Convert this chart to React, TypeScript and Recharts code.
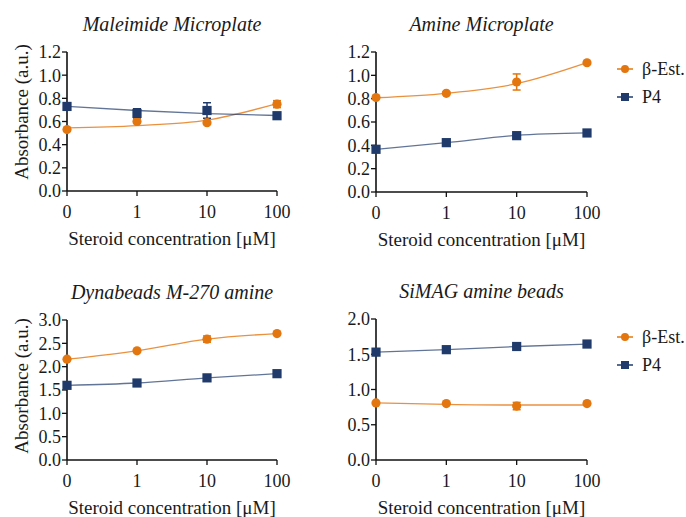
import React from 'react';
import { ComposedChart, Line, XAxis, YAxis, ErrorBar, Label } from 'recharts';

const xCats = ['0', '1', '10', '100'];

// Maleimide Microplate
const maleEst = [0.53, 0.60, 0.59, 0.75];
const maleEstErr = [0.01, 0.01, 0.01, 0.03];
const maleEstFit = [0.545, 0.565, 0.612, 0.755];
const maleP4 = [0.73, 0.67, 0.695, 0.65];
const maleP4Err = [0.01, 0.04, 0.067, 0.01];
const maleP4Fit = [0.73, 0.695, 0.668, 0.652];

// Amine Microplate
const amineEst = [0.81, 0.846, 0.943, 1.108];
const amineEstErr = [0.01, 0.01, 0.069, 0.01];
const amineEstFit = [0.808, 0.846, 0.928, 1.108];
const amineP4 = [0.366, 0.423, 0.483, 0.506];
const amineP4Err = [0.01, 0.01, 0.01, 0.01];
const amineP4Fit = [0.366, 0.423, 0.485, 0.506];

// Dynabeads M-270 amine
const dynaEst = [2.16, 2.34, 2.59, 2.71];
const dynaEstErr = [0.02, 0.02, 0.068, 0.02];
const dynaEstFit = [2.16, 2.34, 2.59, 2.71];
const dynaP4 = [1.6, 1.65, 1.76, 1.85];
const dynaP4Err = [0.02, 0.02, 0.02, 0.02];
const dynaP4Fit = [1.6, 1.65, 1.76, 1.85];

// SiMAG amine beads
const simagEst = [0.81, 0.80, 0.765, 0.80];
const simagEstErr = [0.01, 0.01, 0.052, 0.01];
const simagEstFit = [0.81, 0.79, 0.78, 0.78];
const simagP4 = [1.53, 1.565, 1.61, 1.645];
const simagP4Err = [0.01, 0.01, 0.01, 0.01];
const simagP4Fit = [1.53, 1.565, 1.61, 1.645];

const legendNames = ['β-Est.', 'P4'];

const ORANGE = '#E3760E';
const BLUE = '#1F3A6B';
const TEXT = '#1a1a1a';
const FONT = "'Liberation Serif', serif";

function buildRows(est, estErr, estFit, p4, p4Err, p4Fit) {
  return xCats.map((_, i) => ({
    x: i,
    est: est[i],
    estErr: estErr[i],
    estFit: estFit[i],
    p4: p4[i],
    p4Err: p4Err[i],
    p4Fit: p4Fit[i],
  }));
}

const CircleDot = (props: any) => {
  const { cx, cy, index } = props;
  if (cx == null || cy == null) return <g key={`c${index}`} />;
  return <circle key={`c${index}`} cx={cx} cy={cy} r={4.6} fill={ORANGE} />;
};

const SquareDot = (props: any) => {
  const { cx, cy, index } = props;
  if (cx == null || cy == null) return <g key={`s${index}`} />;
  return <rect key={`s${index}`} x={cx - 4.6} y={cy - 4.6} width={9.2} height={9.2} fill={BLUE} />;
};

const LegendBox = ({ top }: { top: number }) => (
  <div style={{ position: 'absolute', left: 275, top, fontFamily: FONT, fontSize: 18, color: TEXT }}>
    <div style={{ display: 'flex', alignItems: 'center', height: 28 }}>
      <svg width={20} height={12} style={{ marginRight: 7 }}>
        <line x1={2} y1={6} x2={18} y2={6} stroke={ORANGE} strokeWidth={1.5} />
        <circle cx={10} cy={6} r={4} fill={ORANGE} />
      </svg>
      <span style={{ whiteSpace: 'nowrap' }}>{legendNames[0]}</span>
    </div>
    <div style={{ display: 'flex', alignItems: 'center', height: 28 }}>
      <svg width={20} height={12} style={{ marginRight: 7 }}>
        <line x1={2} y1={6} x2={18} y2={6} stroke={BLUE} strokeWidth={1.5} />
        <rect x={6} y={2} width={8} height={8} fill={BLUE} />
      </svg>
      <span style={{ whiteSpace: 'nowrap' }}>{legendNames[1]}</span>
    </div>
  </div>
);

type PanelProps = {
  left: number;
  top: number;
  title: string;
  rows: any[];
  yMax: number;
  yTicks: number[];
  yAxisWidth: number;
  marginTop: number;
  marginRight: number;
  xAxisHeight: number;
  yLabel?: boolean;
  yLabelCenter?: number;
  legend?: boolean;
  legendTop?: number;
};

const Panel = (p: PanelProps) => {
  const W = 346;
  const H = 260;
  const plotLeft = p.yAxisWidth;
  const plotRight = W - p.marginRight;
  const plotCenter = (plotLeft + plotRight) / 2;
  return (
    <div style={{ position: 'absolute', left: p.left, top: p.top, width: W, height: H }}>
      <div
        style={{
          position: 'absolute',
          left: plotCenter - 150,
          width: 300,
          top: p.marginTop - 40,
          textAlign: 'center',
          fontFamily: FONT,
          fontStyle: 'italic',
          fontSize: 20,
          color: TEXT,
          lineHeight: '24px',
          whiteSpace: 'nowrap',
        }}
      >
        {p.title}
      </div>
      <ComposedChart
        width={W}
        height={H}
        data={p.rows}
        margin={{ top: p.marginTop, right: p.marginRight, left: 0, bottom: 0 }}
      >
        <XAxis
          dataKey="x"
          type="number"
          domain={[0, 3]}
          ticks={[0, 1, 2, 3]}
          interval={0}
          tickFormatter={(v: number) => xCats[v]}
          height={p.xAxisHeight}
          axisLine={{ stroke: '#111', strokeWidth: 1.6 }}
          tickLine={{ stroke: '#111', strokeWidth: 1.3 }}
          tickSize={5}
          tickMargin={9}
          tick={{ fontSize: 18, fill: TEXT, fontFamily: FONT }}
        >
          <Label
            content={(props: any) => {
              const vb = props.viewBox || {};
              return (
                <text
                  x={vb.x + vb.width / 2}
                  y={vb.y + 54}
                  textAnchor="middle"
                  fontSize={19}
                  fontFamily={FONT}
                  fill={TEXT}
                >
                  Steroid concentration [μM]
                </text>
              );
            }}
          />
        </XAxis>
        <YAxis
          type="number"
          domain={[0, p.yMax]}
          ticks={p.yTicks}
          interval={0}
          tickFormatter={(v: number) => v.toFixed(1)}
          width={p.yAxisWidth}
          axisLine={{ stroke: '#111', strokeWidth: 1.6 }}
          tickLine={{ stroke: '#111', strokeWidth: 1.3 }}
          tickSize={5}
          tickMargin={1}
          tick={{ fontSize: 18, fill: TEXT, fontFamily: FONT }}
        >
          {p.yLabel ? (
            <Label
              content={() => (
                <text
                  x={21}
                  y={p.yLabelCenter}
                  transform={`rotate(-90, 21, ${p.yLabelCenter})`}
                  textAnchor="middle"
                  dominantBaseline="central"
                  fontSize={19}
                  fontFamily={FONT}
                  fill={TEXT}
                >
                  Absorbance (a.u.)
                </text>
              )}
            />
          ) : null}
        </YAxis>
        <Line
          dataKey="estFit"
          type="monotone"
          stroke={ORANGE}
          strokeOpacity={0.8}
          strokeWidth={1.3}
          dot={false}
          activeDot={false}
          legendType="none"
          isAnimationActive={false}
        />
        <Line
          dataKey="p4Fit"
          type="monotone"
          stroke={BLUE}
          strokeOpacity={0.7}
          strokeWidth={1.3}
          dot={false}
          activeDot={false}
          legendType="none"
          isAnimationActive={false}
        />
        <Line
          dataKey="est"
          stroke="none"
          dot={CircleDot}
          activeDot={false}
          legendType="none"
          isAnimationActive={false}
        >
          <ErrorBar dataKey="estErr" direction="y" width={4} stroke={ORANGE} strokeWidth={1.5} />
        </Line>
        <Line
          dataKey="p4"
          stroke="none"
          dot={SquareDot}
          activeDot={false}
          legendType="none"
          isAnimationActive={false}
        >
          <ErrorBar dataKey="p4Err" direction="y" width={4} stroke={BLUE} strokeWidth={1.5} />
        </Line>
      </ComposedChart>
      {p.legend ? <LegendBox top={p.legendTop || 0} /> : null}
    </div>
  );
};

export default function App() {
  return (
    <div style={{ position: 'absolute', left: 0, top: 0, width: 686, height: 517, background: '#fff', overflow: 'hidden' }}>
      <Panel
        left={0}
        top={0}
        title="Maleimide Microplate"
        rows={buildRows(maleEst, maleEstErr, maleEstFit, maleP4, maleP4Err, maleP4Fit)}
        yMax={1.2}
        yTicks={[0, 0.2, 0.4, 0.6, 0.8, 1.0, 1.2]}
        yAxisWidth={67}
        marginTop={52}
        marginRight={69}
        xAxisHeight={69}
        yLabel
        yLabelCenter={112}
      />
      <Panel
        left={340}
        top={0}
        title="Amine Microplate"
        rows={buildRows(amineEst, amineEstErr, amineEstFit, amineP4, amineP4Err, amineP4Fit)}
        yMax={1.2}
        yTicks={[0, 0.2, 0.4, 0.6, 0.8, 1.0, 1.2]}
        yAxisWidth={36}
        marginTop={52}
        marginRight={99}
        xAxisHeight={68}
        legend
        legendTop={55}
      />
      <Panel
        left={0}
        top={260}
        title="Dynabeads M-270 amine"
        rows={buildRows(dynaEst, dynaEstErr, dynaEstFit, dynaP4, dynaP4Err, dynaP4Fit)}
        yMax={3}
        yTicks={[0, 0.5, 1.0, 1.5, 2.0, 2.5, 3.0]}
        yAxisWidth={67}
        marginTop={60}
        marginRight={69}
        xAxisHeight={60}
        yLabel
        yLabelCenter={126}
      />
      <Panel
        left={340}
        top={260}
        title="SiMAG amine beads"
        rows={buildRows(simagEst, simagEstErr, simagEstFit, simagP4, simagP4Err, simagP4Fit)}
        yMax={2}
        yTicks={[0, 0.5, 1.0, 1.5, 2.0]}
        yAxisWidth={36}
        marginTop={59}
        marginRight={99}
        xAxisHeight={60}
        legend
        legendTop={63}
      />
    </div>
  );
}
